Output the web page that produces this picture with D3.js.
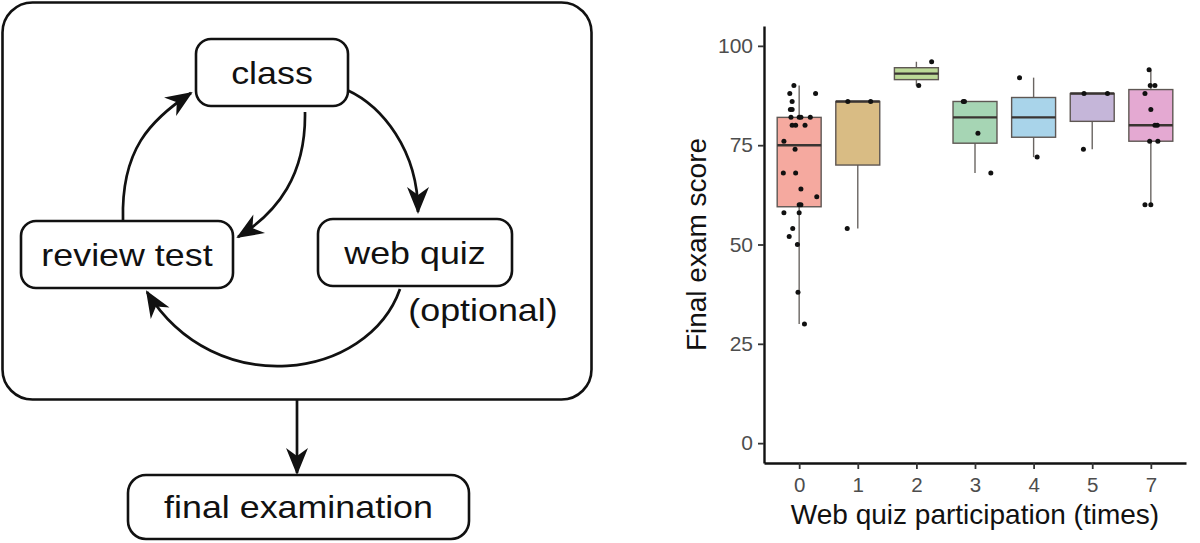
<!DOCTYPE html>
<html>
<head>
<meta charset="utf-8">
<script src="https://cdn.jsdelivr.net/npm/d3@7/dist/d3.min.js"></script>
<style>
  body { margin: 0; background: #fff; }
  svg { display: block; }
  text { font-family: Helvetica, Arial, "Liberation Sans", sans-serif; }
</style>
</head>
<body>
<script>
// ---- chart data ----
const quizTimes = ["0", "1", "2", "3", "4", "5", "7"];
const yTicks = [0, 25, 50, 75, 100];

// final exam scores per participation group
const scores0 = [90, 88, 88, 86, 84, 84, 82, 82, 82, 82, 80, 80, 80, 76, 74, 68, 68, 64, 62, 60, 60, 58, 58, 54, 52, 50, 38, 30];
const scores1 = [86, 86, 54];
const scores2 = [96, 90];
const scores3 = [86, 86, 78, 68];
const scores4 = [92, 72];
const scores5 = [88, 88, 74];
const scores7 = [94, 90, 90, 88, 84, 80, 80, 76, 76, 60, 60];

// horizontal jitter of each dot, in category units
const jitter0 = [-0.09, -0.16, 0.28, -0.12, -0.15, -0.12, -0.14, 0, 0.03, 0.19, -0.12, -0.06, 0.10, -0.26, -0.07, -0.27, -0.06, 0.03, 0.30, 0, 0.03, -0.26, 0, -0.11, -0.17, -0.03, -0.02, 0.09];
const jitter1 = [-0.17, 0.22, -0.18];
const jitter2 = [0.26, 0.04];
const jitter3 = [-0.2, -0.18, 0.05, 0.27];
const jitter4 = [-0.24, 0.06];
const jitter5 = [-0.14, 0.26, -0.15];
const jitter7 = [-0.03, -0.01, 0.07, -0.1, 0, 0.07, 0.11, -0.02, 0.12, -0.1, 0];

const boxFills = ["#F5A99F", "#D9BC84", "#BCD997", "#A6D5B4", "#A9D4EA", "#C5B6D9", "#E4A9D2"];

// flow diagram
const nodes = [
  { label: "class", x: 196, y: 39, w: 152, h: 67, r: 15 },
  { label: "review test", x: 21, y: 221, w: 212, h: 67, r: 15 },
  { label: "web quiz", x: 318, y: 219, w: 194, h: 67, r: 15 },
  { label: "final examination", x: 128, y: 475, w: 341, h: 64, r: 18 }
];
const links = [
  [[123, 220], [121, 150], [150, 120], [191, 93]],
  [[305, 112], [306, 175], [278, 212], [238, 237]],
  [[347, 90], [382, 106], [418, 150], [418, 212]],
  [[400, 289], [368, 380], [215, 402], [147, 292]],
  [[297, 400], [297, 430], [297, 445], [297, 473]]
];

const scoreLists = [scores0, scores1, scores2, scores3, scores4, scores5, scores7];
const jitterLists = [jitter0, jitter1, jitter2, jitter3, jitter4, jitter5, jitter7];

const W = 1200, H = 543;
const svg = d3.select("body").append("svg").attr("width", W).attr("height", H);

// ---------- left: diagram ----------
const defs = svg.append("defs");
defs.append("marker")
  .attr("id", "head")
  .attr("markerUnits", "userSpaceOnUse")
  .attr("viewBox", "-28 -12 32 24")
  .attr("refX", 0).attr("refY", 0)
  .attr("markerWidth", 32).attr("markerHeight", 24)
  .attr("orient", "auto")
  .append("path")
  .attr("d", "M2,0 L-25,-11 L-17,0 L-25,11 Z")
  .attr("fill", "#111");

const diag = svg.append("g");

diag.append("rect")
  .attr("x", 2.5).attr("y", 2.5)
  .attr("width", 589).attr("height", 397)
  .attr("rx", 30)
  .attr("fill", "none").attr("stroke", "#111").attr("stroke-width", 2.6);

diag.selectAll("path.link")
  .data(links)
  .join("path")
  .attr("class", "link")
  .attr("d", d => {
    const p = d3.path();
    p.moveTo(d[0][0], d[0][1]);
    p.bezierCurveTo(d[1][0], d[1][1], d[2][0], d[2][1], d[3][0], d[3][1]);
    return p.toString();
  })
  .attr("fill", "none")
  .attr("stroke", "#111")
  .attr("stroke-width", 2.7)
  .attr("marker-end", "url(#head)");

const node = diag.selectAll("g.node").data(nodes).join("g").attr("class", "node");
node.append("rect")
  .attr("x", d => d.x).attr("y", d => d.y)
  .attr("width", d => d.w).attr("height", d => d.h)
  .attr("rx", d => d.r)
  .attr("fill", "#fff").attr("stroke", "#111").attr("stroke-width", 2.6);
node.append("text")
  .attr("transform", d => `translate(${d.x + d.w / 2},${d.y + d.h / 2 + 11}) scale(1.12,1)`)
  .attr("text-anchor", "middle")
  .attr("font-size", 32)
  .attr("fill", "#111")
  .text(d => d.label);

diag.append("text")
  .attr("transform", "translate(483,321) scale(1.12,1)")
  .attr("text-anchor", "middle")
  .attr("font-size", 32)
  .attr("fill", "#111")
  .text("(optional)");

// ---------- right: box plot ----------
const plotL = 764, plotR = 1186, plotT = 26, plotB = 463;

const x = d3.scalePoint().domain(quizTimes).range([plotL, plotR]).padding(0.6);
const y = d3.scaleLinear().domain([-5, 105]).range([plotB, plotT]);
const step = x.step();
const boxW = step * 0.75;

const groups = quizTimes.map((k, i) => {
  const v = scoreLists[i].slice().sort(d3.ascending);
  const q1 = d3.quantile(v, 0.25), med = d3.quantile(v, 0.5), q3 = d3.quantile(v, 0.75);
  const iqr = q3 - q1;
  const lo = d3.min(v.filter(s => s >= q1 - 1.5 * iqr));
  const hi = d3.max(v.filter(s => s <= q3 + 1.5 * iqr));
  return { key: k, fill: boxFills[i], q1, med, q3, lo, hi,
    pts: scoreLists[i].map((s, j) => ({ s, j: jitterLists[i][j] })) };
});

const plot = svg.append("g");

const g = plot.selectAll("g.box").data(groups).join("g").attr("class", "box");
// whiskers
g.append("line")
  .attr("x1", d => x(d.key)).attr("x2", d => x(d.key))
  .attr("y1", d => y(d.q3)).attr("y2", d => y(d.hi))
  .attr("stroke", "#6a6562").attr("stroke-width", 1.4);
g.append("line")
  .attr("x1", d => x(d.key)).attr("x2", d => x(d.key))
  .attr("y1", d => y(d.q1)).attr("y2", d => y(d.lo))
  .attr("stroke", "#6a6562").attr("stroke-width", 1.4);
// box
g.append("rect")
  .attr("x", d => x(d.key) - boxW / 2)
  .attr("y", d => y(d.q3))
  .attr("width", boxW)
  .attr("height", d => y(d.q1) - y(d.q3))
  .attr("fill", d => d.fill)
  .attr("stroke", "#5e5753").attr("stroke-width", 1.4);
// median
g.append("line")
  .attr("x1", d => x(d.key) - boxW / 2).attr("x2", d => x(d.key) + boxW / 2)
  .attr("y1", d => y(d.med)).attr("y2", d => y(d.med))
  .attr("stroke", "#3a3432").attr("stroke-width", 2.4);
// dots
g.selectAll("circle")
  .data(d => d.pts.map(p => ({ key: d.key, s: p.s, j: p.j })))
  .join("circle")
  .attr("cx", d => x(d.key) + d.j * step)
  .attr("cy", d => y(d.s))
  .attr("r", 2.5)
  .attr("fill", "#111");

// axes
const yAxis = plot.append("g")
  .attr("transform", `translate(${plotL},0)`)
  .call(d3.axisLeft(y).tickValues(yTicks).tickSize(6).tickSizeOuter(0).tickPadding(5));
const xAxis = plot.append("g")
  .attr("transform", `translate(0,${plotB})`)
  .call(d3.axisBottom(x).tickSize(6).tickSizeOuter(0).tickPadding(8));

[yAxis, xAxis].forEach(a => {
  a.select(".domain").attr("stroke", "#111").attr("stroke-width", 2.4);
  a.selectAll(".tick line").attr("stroke", "#333").attr("stroke-width", 1.8);
  a.selectAll(".tick text").attr("fill", "#4d4d4d")
    .attr("font-family", "Helvetica, Arial, 'Liberation Sans', sans-serif");
});
yAxis.selectAll(".tick text").attr("font-size", 21);
xAxis.selectAll(".tick text").attr("font-size", 20.5);

plot.append("text")
  .attr("transform", `translate(706,${(plotT + plotB) / 2}) rotate(-90)`)
  .attr("text-anchor", "middle")
  .attr("font-size", 28)
  .attr("fill", "#111")
  .text("Final exam score");

plot.append("text")
  .attr("x", (plotL + plotR) / 2)
  .attr("y", 524)
  .attr("text-anchor", "middle")
  .attr("font-size", 28)
  .attr("fill", "#111")
  .text("Web quiz participation (times)");
</script>
</body>
</html>
